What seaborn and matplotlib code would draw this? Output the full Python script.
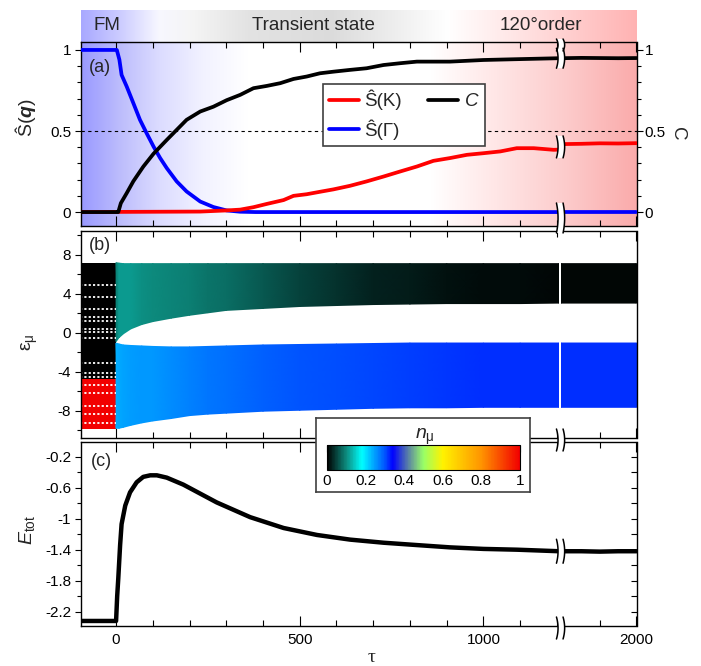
import numpy as np
import matplotlib
matplotlib.use("Agg")
import matplotlib.pyplot as plt
import seaborn as sns
from matplotlib.colors import LinearSegmentedColormap, Normalize
from matplotlib.lines import Line2D
from matplotlib.patches import Polygon
from matplotlib.transforms import IdentityTransform
from matplotlib.ticker import MultipleLocator, FixedLocator, FuncFormatter
import matplotlib.cm as mcm

# ---------------- data ----------------
# panel (a): structure factors S(K), S(Gamma) and C  (left segment)
tau_C = [-97, 0, 6, 13, 29, 47, 74, 102, 138, 165, 192, 229, 265, 301, 338, 374,
         410, 447, 483, 519, 555, 592, 637, 682, 728, 773, 819, 909, 1000, 1091, 1206]
C_val = [0, 0, 0.0, 0.055, 0.117, 0.19, 0.28, 0.36, 0.445, 0.507, 0.569, 0.62, 0.65,
         0.69, 0.723, 0.764, 0.778, 0.795, 0.821, 0.836, 0.856, 0.866, 0.877, 0.887,
         0.907, 0.918, 0.928, 0.928, 0.938, 0.943, 0.949]
tau_G = [-97, 2, 9, 15, 29, 47, 65, 83, 102, 120, 138, 165, 192, 229, 265, 301, 338, 380, 1206]
SG_val = [1, 1, 0.94, 0.846, 0.774, 0.672, 0.569, 0.487, 0.404, 0.333, 0.271, 0.189,
          0.127, 0.065, 0.031, 0.01, 0.002, 0, 0]
tau_K = [-97, 229, 301, 338, 374, 410, 456, 483, 519, 555, 592, 637, 682, 728, 773,
         819, 864, 909, 955, 1000, 1046, 1091, 1137, 1191, 1206]
SK_val = [0, 0.003, 0.01, 0.015, 0.03, 0.05, 0.074, 0.1, 0.11, 0.125, 0.14, 0.162,
          0.189, 0.219, 0.25, 0.281, 0.316, 0.333, 0.353, 0.363, 0.374, 0.394, 0.394,
          0.384, 0.385]
# panel (a): right segment
tau_R = [1794, 1850, 1900, 1950, 2000]
C_R = [0.949, 0.951, 0.950, 0.949, 0.950]
SK_R = [0.419, 0.421, 0.424, 0.423, 0.425]
SG_R = [0, 0, 0, 0, 0]

# panel (b): FM initial levels (tau < 0)
tau_fm = [-97, 0]
fm_edges = [-9.85, -4.75, 7.15]
fm_n = [1.0, 0.0]
fm_gaps = [4.9, 3.7, 2.45, 1.6, 1.2, 0.4, 0.05, -0.55, -3.1, -4.1, -4.5,
           -5.35, -6.2, -7.5, -8.3, -9.25]
# panel (b): band edges and occupations after the quench
tau_b = [0, 8, 20, 40, 70, 100, 150, 200, 250, 300, 400, 500, 600, 700, 800, 900, 1000, 1100, 1206]
up_top = [7.2, 7.15, 7.1, 7.1, 7.1, 7.1, 7.1, 7.1, 7.1, 7.1, 7.1, 7.1, 7.1, 7.1, 7.1, 7.1, 7.1, 7.1, 7.1]
up_bot = [-0.9, -0.5, -0.1, 0.4, 0.85, 1.15, 1.5, 1.8, 2.05, 2.3, 2.5, 2.7, 2.8, 2.9, 2.95, 3.0, 3.0, 3.0, 3.05]
lo_top = [-1.05, -1.15, -1.25, -1.3, -1.35, -1.4, -1.45, -1.45, -1.4, -1.35, -1.25, -1.2,
          -1.15, -1.1, -1.05, -1.05, -1.05, -1.05, -1.05]
lo_bot = [-9.8, -9.8, -9.7, -9.5, -9.25, -9.05, -8.8, -8.5, -8.35, -8.25, -8.05, -7.95,
          -7.85, -7.75, -7.7, -7.7, -7.65, -7.65, -7.65]
n_up = [0.09, 0.11, 0.11, 0.11, 0.105, 0.1, 0.095, 0.09, 0.085, 0.08, 0.065, 0.05,
        0.038, 0.025, 0.02, 0.015, 0.011, 0.008, 0.006]
n_lo = [0.235, 0.24, 0.245, 0.248, 0.25, 0.253, 0.26, 0.268, 0.275, 0.28, 0.29, 0.298,
        0.303, 0.308, 0.312, 0.315, 0.317, 0.318, 0.318]
tau_bR = [1794, 2000]
up_top_R = [7.1, 7.1]
up_bot_R = [3.05, 3.05]
lo_top_R = [-1.05, -1.05]
lo_bot_R = [-7.65, -7.65]
n_up_R = [0.005, 0.004]
n_lo_R = [0.318, 0.318]

# panel (c): total energy
tau_E = [-97, 0, 3, 6, 11, 15, 25, 38, 56, 74, 93, 111, 138, 183, 274, 365, 456, 547,
         637, 728, 818, 909, 1000, 1091, 1206]
E_val = [-2.32, -2.32, -2.0, -1.77, -1.34, -1.07, -0.83, -0.66, -0.53, -0.46, -0.44,
         -0.44, -0.47, -0.56, -0.79, -0.98, -1.12, -1.21, -1.27, -1.31, -1.34, -1.37,
         -1.39, -1.40, -1.42]
E_R = [-1.42, -1.42, -1.425, -1.42, -1.42]

# colour bar
cbar_ticks = [0, 0.2, 0.4, 0.6, 0.8, 1]

# ---------------- style ----------------
sns.set_theme(style="ticks")
plt.rcParams.update({
    "font.family": ["Liberation Sans", "DejaVu Sans"],
    "mathtext.fontset": "custom",
    "mathtext.rm": "Liberation Sans",
    "mathtext.it": "Liberation Sans:italic",
    "mathtext.bf": "Liberation Sans:bold:italic",
    "axes.unicode_minus": False,
    "axes.edgecolor": "black",
    "axes.linewidth": 1.0,
    "xtick.color": "black",
    "ytick.color": "black",
    "xtick.labelsize": 11,
    "ytick.labelsize": 11,
})

cm_anchor = [(0.0, (0, 0, 0)), (0.1, (0.05, 0.55, 0.5)), (0.18, (0, 1, 1)),
             (0.25, (0, 0.6, 1)), (0.3, (0, 0.32, 1)), (0.34, (0, 0, 1)),
             (0.42, (0.35, 0.5, 0.65)), (0.5, (0.6, 1, 0.4)), (0.6, (1, 0.95, 0)),
             (0.8, (1, 0.58, 0)), (1.0, (0.95, 0, 0))]
cmap = LinearSegmentedColormap.from_list("nmu", cm_anchor)
norm = Normalize(0, 1)

W, H, DPI = 701, 666, 100
fig = plt.figure(figsize=(W / DPI, H / DPI), dpi=DPI)


def rect(x0, y0, x1, y1):
    return [x0 / W, 1 - y1 / H, (x1 - x0) / W, (y1 - y0) / H]


XL, XG0, XG1, XR = 81, 558.5, 561, 636.5
ROWS = [(42, 226), (231, 438), (442, 626)]
XLIM_L = (-95.5, 1204.5)
XLIM_R = (1794.5, 2000)


def gradient(anchors):
    f = np.linspace(0, 1, 800)
    pos = [a[0] for a in anchors]
    rgb = np.stack([np.interp(f, pos, [a[1][i] for a in anchors]) for i in range(3)], axis=-1)
    return rgb[None, :, :]


strip_anchor = [(0, (0.66, 0.66, 1)), (0.07, (0.8, 0.8, 1)), (0.14, (0.97, 0.97, 1)),
                (0.2, (0.96, 0.96, 0.96)), (0.3, (0.89, 0.89, 0.89)), (0.45, (0.86, 0.86, 0.86)),
                (0.56, (0.93, 0.93, 0.93)), (0.66, (1, 1, 1)), (0.78, (1, 0.9, 0.9)),
                (1, (1, 0.7, 0.7))]
panel_anchor = [(0, (0.6, 0.6, 1.0)), (0.07, (0.74, 0.74, 0.99)), (0.14, (0.86, 0.86, 1.0)),
                (0.22, (0.95, 0.95, 1.0)), (0.3, (1, 1, 1)), (0.63, (1, 1, 1)),
                (0.75, (1, 0.9, 0.9)), (0.87, (0.99, 0.8, 0.8)), (1, (0.98, 0.67, 0.67))]

for (yy0, yy1, anc) in [(10, 42, strip_anchor), (42, 226, panel_anchor)]:
    bg = fig.add_axes(rect(XL, yy0, XR, yy1))
    bg.imshow(gradient(anc), aspect="auto", extent=(0, 1, 0, 1), interpolation="bilinear")
    bg.axis("off")
    bg.set_zorder(0)

fmt = FuncFormatter(lambda v, p: f"{v:g}")
pairs = []
for (y0, y1) in ROWS:
    aL = fig.add_axes(rect(XL, y0, XG0, y1))
    aR = fig.add_axes(rect(XG1, y0, XR, y1), sharey=aL)
    for a in (aL, aR):
        a.set_zorder(2)
        a.set_facecolor("white")
        a.tick_params(axis="x", which="both", direction="in", top=True, bottom=True,
                      labelbottom=False, width=0.8)
        a.tick_params(axis="x", which="major", length=7)
        a.tick_params(axis="x", which="minor", length=4.5)
    aL.set_xlim(*XLIM_L)
    aR.set_xlim(*XLIM_R)
    aL.xaxis.set_major_locator(FixedLocator([0, 500, 1000]))
    aL.xaxis.set_minor_locator(MultipleLocator(100))
    aR.xaxis.set_major_locator(FixedLocator([2000]))
    aR.xaxis.set_minor_locator(FixedLocator([1900]))
    aL.spines["right"].set_visible(False)
    aR.spines["left"].set_visible(False)
    aL.tick_params(axis="y", which="both", direction="out", left=True, right=False,
                   width=0.8, pad=2.5)
    aL.tick_params(axis="y", which="major", length=4.5)
    aL.tick_params(axis="y", which="minor", length=3.2)
    aL.yaxis.set_major_formatter(fmt)
    aR.yaxis.set_major_formatter(fmt)
    pairs.append((aL, aR))

(aL, aR), (bL, bR), (cL, cR) = pairs

# ---- panel (a) ----
for a in (aL, aR):
    a.patch.set_alpha(0)
aL.set_ylim(-0.086, 1.049)
aL.yaxis.set_major_locator(FixedLocator([0, 0.5, 1]))
aL.yaxis.set_minor_locator(MultipleLocator(0.1))
aR.tick_params(axis="y", which="both", direction="out", left=False, right=True,
               labelleft=False, labelright=True, width=0.8, pad=1.5)
aR.tick_params(axis="y", which="major", length=4.5)
aR.tick_params(axis="y", which="minor", length=3.2)
for a in (aL, aR):
    a.axhline(0.5, color="black", lw=0.8, ls=(0, (3, 3)), zorder=1)
lw_a = 2.7
sns.lineplot(x=tau_G, y=SG_val, ax=aL, color="#0000ff", lw=lw_a, sort=False, estimator=None, zorder=3)
sns.lineplot(x=tau_K, y=SK_val, ax=aL, color="#ff0000", lw=lw_a, sort=False, estimator=None, zorder=4)
sns.lineplot(x=tau_C, y=C_val, ax=aL, color="black", lw=lw_a, sort=False, estimator=None, zorder=5)
sns.lineplot(x=tau_R, y=SG_R, ax=aR, color="#0000ff", lw=lw_a, sort=False, estimator=None, zorder=3)
sns.lineplot(x=tau_R, y=SK_R, ax=aR, color="#ff0000", lw=lw_a, sort=False, estimator=None, zorder=4)
sns.lineplot(x=tau_R, y=C_R, ax=aR, color="black", lw=lw_a, sort=False, estimator=None, zorder=5)
aL.set_xlabel(""); aL.set_ylabel(""); aR.set_xlabel(""); aR.set_ylabel("")

handles = [Line2D([], [], color="#ff0000", lw=2.7), Line2D([], [], color="#0000ff", lw=2.7),
           Line2D([], [], color="black", lw=2.7)]
labels = ["Ŝ(K)", "Ŝ(Γ)", "$C$"]
leg = aL.legend(handles, labels, loc="upper left",
                bbox_to_anchor=(323 / W, 1 - 147 / H, 162 / W, 63 / H),
                bbox_transform=fig.transFigure, mode="expand", ncol=2, frameon=True,
                fancybox=False, edgecolor="0.25", framealpha=1, fontsize=13.5,
                handlelength=1.6, borderpad=0.3, labelspacing=0.5, columnspacing=1.0,
                handletextpad=0.3, borderaxespad=0)
leg.get_frame().set_linewidth(1.2)

# ---- panel (b) ----
bL.set_ylim(-10.8, 10.45)
bL.yaxis.set_major_locator(FixedLocator([-8, -4, 0, 4, 8]))
bL.yaxis.set_minor_locator(MultipleLocator(2))
bR.tick_params(axis="y", which="both", left=False, right=False, labelleft=False, labelright=False)
bL.pcolormesh(tau_fm, fm_edges, np.array(fm_n)[:, None], cmap=cmap, norm=norm, shading="flat")
bL.hlines(fm_gaps, -97, -1, colors="white", linestyles=(0, (1.2, 1.2)), linewidth=1.3)


def band(ax, t, bot, top, n):
    X = np.vstack([t, t])
    Y = np.vstack([bot, top])
    C = np.vstack([n, n])
    ax.pcolormesh(X, Y, C, cmap=cmap, norm=norm, shading="gouraud")


band(bL, tau_b, up_bot, up_top, n_up)
band(bL, tau_b, lo_bot, lo_top, n_lo)
band(bR, tau_bR, up_bot_R, up_top_R, n_up_R)
band(bR, tau_bR, lo_bot_R, lo_top_R, n_lo_R)

# ---- panel (c) ----
cL.set_ylim(-2.385, -0.01)
cL.yaxis.set_major_locator(FixedLocator([-2.2, -1.8, -1.4, -1.0, -0.6, -0.2]))
cL.yaxis.set_minor_locator(MultipleLocator(0.2))
cR.tick_params(axis="y", which="both", direction="in", left=False, right=True,
               labelleft=False, labelright=False, length=4.5, width=0.8)
sns.lineplot(x=tau_E, y=E_val, ax=cL, color="black", lw=3.2, sort=False, estimator=None)
sns.lineplot(x=tau_R, y=E_R, ax=cR, color="black", lw=3.2, sort=False, estimator=None)
for a in (cL, cR):
    a.set_xlabel(""); a.set_ylabel("")
    a.tick_params(axis="x", labelbottom=True, pad=5)
cL.xaxis.set_major_formatter(fmt)
cR.xaxis.set_major_formatter(fmt)
for a in (bL, bR):
    a.set_xlabel(""); a.set_ylabel("")

# ---- texts ----
fig.text(107 / W, 1 - 25 / H, "FM", ha="center", va="center", fontsize=13.5)
fig.text(313 / W, 1 - 25 / H, "Transient state", ha="center", va="center", fontsize=13.5)
fig.text(541 / W, 1 - 25 / H, "120°order", ha="center", va="center", fontsize=13.5)
for lab, (x, y) in [("(a)", (100, 68)), ("(b)", (100, 245)), ("(c)", (101, 462))]:
    fig.text(x / W, 1 - y / H, lab, ha="center", va="center", fontsize=13, zorder=5)
fig.text(25 / W, 1 - 118 / H, "Ŝ($\\mathbf{q}$)", rotation=90, ha="center", va="center", fontsize=14)
fig.text(30 / W, 1 - 342 / H, "ε$_{\\mathrm{\\mu}}$", rotation=90, ha="center", va="center", fontsize=14)
fig.text(27 / W, 1 - 530 / H, "$E_{\\mathrm{tot}}$", rotation=90, ha="center", va="center", fontsize=14)
fig.text(677 / W, 1 - 134 / H, "C", rotation=270, ha="center", va="center", fontsize=13.5)
fig.text(372 / W, 1 - 658 / H, "τ", ha="center", va="center", fontsize=14, family="Liberation Serif")

# ---- colour bar inset ----
frame = fig.add_axes(rect(316, 418, 530, 492))
frame.set_xticks([]); frame.set_yticks([])
frame.set_facecolor("white")
for s in frame.spines.values():
    s.set_color("0.25"); s.set_linewidth(1.2); s.set_visible(True)
frame.set_zorder(10)
frame.text(0.509, 0.74, "$n_{\\mathrm{\\mu}}$", transform=frame.transAxes, ha="center",
           va="center", fontsize=14)
cax = fig.add_axes(rect(327, 445, 520, 469.5))
cax.set_zorder(11)
cb = fig.colorbar(mcm.ScalarMappable(norm=norm, cmap=cmap), cax=cax, orientation="horizontal",
                  ticks=cbar_ticks)
cb.outline.set_linewidth(0.8)
cax.xaxis.set_major_formatter(fmt)
cax.tick_params(axis="x", direction="in", top=True, bottom=False, labelbottom=True,
                labeltop=False, length=5, width=0.8, labelsize=11, pad=3)
cax.xaxis.set_ticks_position("top")
cax.xaxis.set_label_position("bottom")
cax.tick_params(axis="x", labelbottom=True, labeltop=False)

# ---- axis-break marks ----
fig.canvas.draw()


def to_px(ax, x, y):
    dx, dy = ax.transData.transform((x, y))
    return H - dy


def break_mark(yc, half):
    xc = (XG0 + XG1) / 2
    t = np.linspace(-1, 1, 15)
    ys = H - (yc + half * t)
    bow = 1.6
    xs1 = xc - 3.3 + bow * (1 - t ** 2)
    xs2 = xc + 3.3 + bow * (1 - t ** 2)
    poly = Polygon(np.column_stack([np.r_[xs1, xs2[::-1]], np.r_[ys, ys[::-1]]]), closed=True,
                   facecolor="white", edgecolor="none", transform=IdentityTransform(), zorder=20)
    fig.add_artist(poly)
    for xs in (xs1, xs2):
        fig.add_artist(Line2D(xs, ys, color="black", lw=1.1, transform=IdentityTransform(),
                              zorder=21))


break_mark(45, 6)
break_mark(to_px(aL, 1206, C_val[-1]), 10)
break_mark(to_px(aL, 1206, (SK_val[-1] + SK_R[0]) / 2), 11)
break_mark(218, 15)
break_mark(440, 11)
break_mark(to_px(cL, 1206, E_val[-1]), 12)
break_mark(628, 11)

fig.savefig("out.png", dpi=DPI)
